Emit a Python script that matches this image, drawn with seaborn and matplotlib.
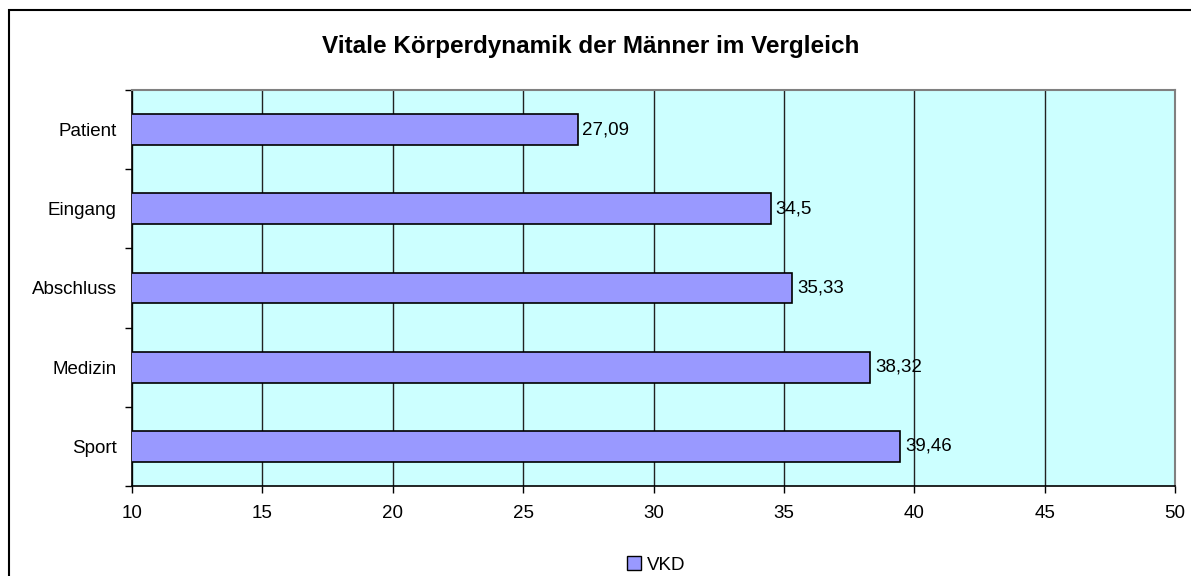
import matplotlib
matplotlib.use('Agg')
import matplotlib.pyplot as plt
import seaborn as sns
import pandas as pd
from matplotlib.patches import Rectangle, Patch

categories = ['Patient', 'Eingang', 'Abschluss', 'Medizin', 'Sport']
values = [27.09, 34.5, 35.33, 38.32, 39.46]
value_labels = ['27,09', '34,5', '35,33', '38,32', '39,46']
x_ticks = [10, 15, 20, 25, 30, 35, 40, 45, 50]
series_name = 'VKD'

df = pd.DataFrame({'category': categories, 'value': values})

sns.set_style('white', {'text.color': 'black', 'xtick.color': 'black',
                        'ytick.color': 'black', 'axes.labelcolor': 'black'})
plt.rcParams['font.family'] = ['Liberation Sans', 'DejaVu Sans']

fig = plt.figure(figsize=(11.91, 5.76), dpi=100)
W, H = 1191, 576
ax = fig.add_axes([132 / W, 1 - 486 / H, (1175 - 132) / W, (486 - 90) / H])
ax.set_facecolor('#CCFFFF')

sns.barplot(data=df, x='value', y='category', orient='h', color='#9999FF',
            saturation=1, width=0.39, edgecolor='black', linewidth=1.2, ax=ax, zorder=3)

ax.set_xlim(10, 50)
ax.set_ylim(4.5, -0.5)
ax.set_xticks(x_ticks)
ax.set_xticklabels([str(t) for t in x_ticks], fontsize=13.5)
ax.grid(axis='x', color='#222222', linewidth=1, zorder=0)
ax.set_axisbelow(True)
ax.set_xlabel('')
ax.set_ylabel('')

ax.set_yticks(range(len(categories)))
ax.set_yticklabels(categories, fontsize=13.5)
ax.set_yticks([i - 0.5 for i in range(len(categories) + 1)], minor=True)
ax.tick_params(axis='y', which='major', length=0, pad=11)
ax.tick_params(axis='y', which='minor', length=5, width=1, color='black', left=True)
ax.tick_params(axis='x', which='major', length=5, width=1, color='black', bottom=True, pad=9)

for side in ['left', 'bottom']:
    ax.spines[side].set_color('black')
    ax.spines[side].set_linewidth(1.2)
for side in ['top', 'right']:
    ax.spines[side].set_color('#808080')
    ax.spines[side].set_linewidth(1.5)

ax.bar_label(ax.containers[0], labels=value_labels, padding=3.5, fontsize=13.5, color='black')

fig.text(591 / W, 1 - 47 / H, 'Vitale Körperdynamik der Männer im Vergleich',
         ha='center', va='center', fontsize=17.5, fontweight='bold', color='black')

handle = Patch(facecolor='#9999FF', edgecolor='black', linewidth=1)
fig.legend([handle], [series_name], loc='center', bbox_to_anchor=(656 / W, 1 - 565 / H),
           frameon=False, fontsize=13.5, handlelength=0.75, handleheight=0.75, handletextpad=0.3)

fig.patches.append(Rectangle((9 / W, -0.1), 1.2, 1 - 10 / H + 0.1, transform=fig.transFigure,
                             fill=False, edgecolor='black', linewidth=1.5, clip_on=False))

fig.savefig('out.png', dpi=100)
